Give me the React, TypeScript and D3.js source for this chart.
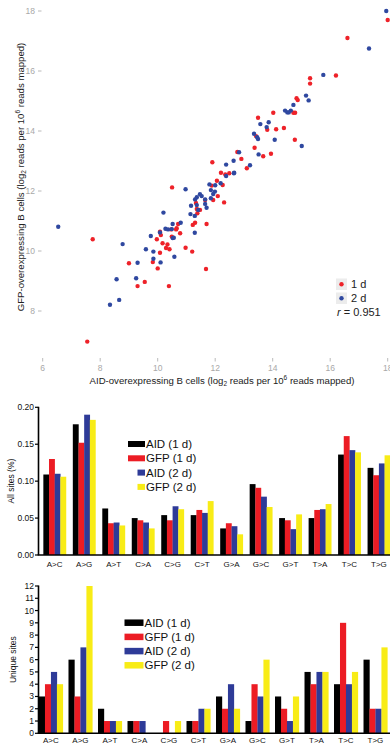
import React from 'react';
import * as d3 from 'd3';

// scatter: [AID log2 rpm, GFP log2 rpm]
const DAY1_POINTS: [number, number][] = [
  [18.0, 17.7], [16.6, 17.1], [16.2, 15.85], [15.3, 15.76], [15.3, 15.58], [14.83, 15.09],
  [14.87, 15.03], [14.72, 14.61], [14.78, 14.61], [14.02, 14.61], [13.49, 14.44], [13.81, 14.04],
  [14.12, 14.06], [14.39, 14.1], [13.42, 13.83], [14.77, 13.71], [13.37, 13.44], [13.67, 13.16],
  [13.94, 13.24], [12.77, 13.3], [12.91, 13.07], [11.9, 12.96], [13.1, 12.76], [12.2, 12.61],
  [12.49, 12.59], [12.35, 12.55], [12.06, 12.34], [12.26, 12.2], [11.88, 12.18], [12.09, 11.83],
  [11.93, 11.7], [12.31, 11.62], [10.5, 12.12], [11.65, 11.7], [11.36, 11.4], [11.47, 11.37],
  [11.38, 11.26], [11.3, 10.94], [11.7, 10.9], [11.22, 10.87], [10.71, 10.9], [10.66, 10.76],
  [11.33, 11.6], [7.74, 10.39], [10.64, 10.72], [10.47, 10.72], [10.08, 10.64], [10.11, 10.53],
  [10.78, 10.59], [10.49, 10.48], [9.97, 10.39], [10.17, 10.26], [10.34, 10.22], [10.29, 10.1],
  [10.41, 10.06], [10.08, 9.94], [10.97, 10.11], [11.2, 9.98], [9.0, 9.59], [9.83, 9.63],
  [10.0, 9.42], [9.55, 8.97], [9.3, 8.83], [10.39, 8.83], [11.68, 9.4], [7.55, 6.98],
];
const DAY2_POINTS: [number, number][] = [
  [17.95, 18.0], [17.35, 16.75], [15.76, 15.87], [15.16, 15.18], [15.25, 15.02], [14.72, 14.87],
  [14.43, 14.68], [14.51, 14.62], [14.63, 14.68], [14.56, 14.62], [13.86, 14.29], [13.57, 14.23],
  [13.79, 14.13], [13.35, 13.91], [13.46, 13.79], [13.49, 13.73], [14.07, 13.71], [15.01, 13.5],
  [13.51, 13.22], [12.83, 13.29], [12.64, 13.01], [12.38, 12.88], [13.21, 12.86], [12.66, 12.61],
  [12.38, 12.5], [12.65, 12.59], [12.19, 12.26], [11.8, 12.22], [12.0, 12.19], [11.85, 12.03],
  [11.99, 11.98], [11.93, 11.9], [11.85, 11.76], [10.97, 12.06], [11.47, 11.89], [11.53, 11.83],
  [11.36, 11.79], [11.3, 11.72], [11.65, 11.72], [11.36, 11.53], [11.65, 11.57], [11.41, 11.37],
  [11.7, 11.44], [11.14, 11.23], [11.29, 11.17], [11.16, 11.51], [10.2, 11.28], [10.52, 10.9],
  [10.8, 10.94], [11.29, 10.61], [10.27, 10.74], [10.36, 10.72], [10.49, 10.73], [10.08, 10.62],
  [10.52, 10.43], [10.56, 10.44], [9.76, 10.5], [9.85, 9.98], [9.59, 10.06], [10.58, 9.81],
  [9.3, 9.61], [9.85, 9.74], [10.1, 9.62], [8.57, 9.06], [9.25, 9.09], [8.66, 8.37],
  [8.34, 8.21], [8.78, 10.23], [6.54, 10.81],
];
const SCATTER_X_TICKS = [6, 8, 10, 12, 14, 16, 18];
const SCATTER_Y_TICKS = [8, 10, 12, 14, 16, 18];

const MUTATIONS = ['A>C', 'A>G', 'A>T', 'C>A', 'C>G', 'C>T', 'G>A', 'G>C', 'G>T', 'T>A', 'T>C', 'T>G'];
const SERIES = ['AID (1 d)', 'GFP (1 d)', 'AID (2 d)', 'GFP (2 d)'];

// all sites (%)
const ALL_AID_1D = [0.109, 0.177, 0.063, 0.050, 0.054, 0.054, 0.036, 0.096, 0.050, 0.050, 0.136, 0.118];
const ALL_GFP_1D = [0.130, 0.152, 0.043, 0.047, 0.047, 0.061, 0.043, 0.091, 0.047, 0.061, 0.161, 0.108];
const ALL_AID_2D = [0.110, 0.190, 0.044, 0.044, 0.066, 0.057, 0.039, 0.079, 0.035, 0.062, 0.142, 0.124];
const ALL_GFP_2D = [0.106, 0.183, 0.040, 0.036, 0.062, 0.073, 0.028, 0.065, 0.055, 0.069, 0.139, 0.135];
const ALL_TICKS = [0, 0.05, 0.10, 0.15, 0.20];

// unique sites
const UNIQ_AID_1D = [3, 6, 2, 1, 0, 1, 3, 1, 3, 5, 4, 6];
const UNIQ_GFP_1D = [4, 3, 1, 1, 1, 1, 2, 4, 2, 4, 9, 2];
const UNIQ_AID_2D = [5, 7, 1, 1, 0, 2, 4, 3, 1, 5, 4, 2];
const UNIQ_GFP_2D = [4, 12, 1, 0, 1, 2, 2, 6, 3, 5, 5, 7];
const UNIQ_TICKS = [0, 1, 2, 3, 4, 5, 6, 7, 8, 9, 10, 11, 12];

const BAR_COLORS = ['#000000', '#ec1c24', '#2e3b98', '#f8ec16'];
const DOT_RED = '#ee2229';
const DOT_BLUE = '#2f48a0';
const FONT = '"Liberation Sans", Arial, Helvetica, sans-serif';

const Scatter: React.FC = () => {
  const x = d3.scaleLinear().domain([6, 18]).range([42.7, 387.7]);
  const y = d3.scaleLinear().domain([8, 18]).range([311, 11]);
  const tickGray = '#a8a8a8';
  return (
    <g fontFamily={FONT}>
      {SCATTER_Y_TICKS.map(t => (
        <g key={'y' + t}>
          <text x={35} y={y(t)} dy="0.33em" fontSize={8.5} fill={tickGray} textAnchor="end">{t}</text>
          <line x1={38} x2={41.5} y1={y(t)} y2={y(t)} stroke={tickGray} strokeWidth={0.8}/>
        </g>
      ))}
      {SCATTER_X_TICKS.map(t => (
        <g key={'x' + t}>
          <line x1={x(t)} x2={x(t)} y1={358} y2={361.5} stroke={tickGray} strokeWidth={0.8}/>
          <text x={x(t)} y={371} fontSize={8.5} fill={tickGray} textAnchor="middle">{t}</text>
        </g>
      ))}
      <text x={222} y={384} fontSize={9.6} fill="#222" textAnchor="middle">
        AID-overexpressing B cells (log<tspan fontSize={6.5} dy={2}>2</tspan>
        <tspan dy={-2}> reads per 10</tspan><tspan fontSize={6.5} dy={-4}>6</tspan>
        <tspan dy={4}> reads mapped)</tspan>
      </text>
      <text transform="translate(24,177) rotate(-90)" fontSize={9.6} fill="#222" textAnchor="middle">
        GFP-overexpressing B cells (log<tspan fontSize={6.5} dy={2}>2</tspan>
        <tspan dy={-2}> reads per 10</tspan><tspan fontSize={6.5} dy={-4}>6</tspan>
        <tspan dy={4}> reads mapped)</tspan>
      </text>
      {DAY1_POINTS.map((d, i) => (
        <circle key={'r' + i} cx={x(d[0])} cy={y(d[1])} r={2.2} fill={DOT_RED}/>
      ))}
      {DAY2_POINTS.map((d, i) => (
        <circle key={'b' + i} cx={x(d[0])} cy={y(d[1])} r={2.2} fill={DOT_BLUE}/>
      ))}
      <rect x={336} y={278.5} width={11} height={11.5} fill="#ececec"/>
      <rect x={336} y={292.5} width={11} height={11.5} fill="#ececec"/>
      <circle cx={341.5} cy={284.3} r={2.2} fill={DOT_RED}/>
      <circle cx={341.5} cy={298.3} r={2.2} fill={DOT_BLUE}/>
      <text x={351} y={288.3} fontSize={11} fill="#222">1 d</text>
      <text x={351} y={302.3} fontSize={11} fill="#222">2 d</text>
      <text x={337} y={316} fontSize={11} fill="#222"><tspan fontStyle="italic">r</tspan> = 0.951</text>
    </g>
  );
};

type BarPanelProps = {
  data: number[][];
  yTop: number;
  yBottom: number;
  yMax: number;
  ticks: number[];
  format: (v: number) => string;
  xRange: [number, number];
  padInner: number;
  padOuter: number;
  title: string;
  titleX: number;
  tickFont: number;
  labelY: number;
  legendRight: number;
  legendY: number;
  legendStep: number;
  swatchW: number[];
  swatchH: number;
};

const BarPanel: React.FC<BarPanelProps> = p => {
  const y = d3.scaleLinear().domain([0, p.yMax]).range([p.yBottom, p.yTop]);
  const x = d3.scaleBand<string>().domain(MUTATIONS).range(p.xRange)
    .paddingInner(p.padInner).paddingOuter(p.padOuter);
  const xs = d3.scaleBand<string>().domain(SERIES).range([0, x.bandwidth()]);
  const axisX = 38.5;
  return (
    <g fontFamily={FONT}>
      {p.data.map((vals, si) => vals.map((v, ci) => (
        <rect key={si + '-' + ci}
              x={x(MUTATIONS[ci])! + xs(SERIES[si])!}
              y={y(v)}
              width={xs.bandwidth() + 0.2}
              height={p.yBottom - y(v)}
              fill={BAR_COLORS[si]}/>
      )))}
      <line x1={axisX} x2={axisX} y1={p.yTop - 0.5} y2={p.yBottom} stroke="#000" strokeWidth={1.6}/>
      <line x1={axisX - 0.8} x2={390} y1={p.yBottom} y2={p.yBottom} stroke="#000" strokeWidth={1.6}/>
      {p.ticks.map(t => (
        <g key={t}>
          <line x1={axisX - 3.5} x2={axisX} y1={y(t)} y2={y(t)} stroke="#000" strokeWidth={1.2}/>
          <text x={axisX - 4.5} y={y(t)} dy="0.35em" fontSize={p.tickFont} textAnchor="end" fill="#111">{p.format(t)}</text>
        </g>
      ))}
      {MUTATIONS.map(m => (
        <text key={m} x={x(m)! + x.bandwidth() / 2} y={p.labelY} fontSize={8} textAnchor="middle" fill="#111">{m}</text>
      ))}
      <text transform={`translate(${p.titleX},${(p.yTop + p.yBottom) / 2}) rotate(-90)`}
            fontSize={8.5} textAnchor="middle" fill="#111">{p.title}</text>
      {SERIES.map((s, i) => (
        <g key={s}>
          <rect x={p.legendRight - p.swatchW[i]} y={p.legendY + i * p.legendStep - p.swatchH / 2}
                width={p.swatchW[i]} height={p.swatchH} fill={BAR_COLORS[i]}/>
          <text x={p.legendRight + 1} y={p.legendY + i * p.legendStep} dy="0.36em" fontSize={11.5} fill="#111">{s}</text>
        </g>
      ))}
    </g>
  );
};

export default function App() {
  return (
    <svg width={390} height={744} style={{position: 'absolute', left: 0, top: 0, background: '#fff'}}>
      <Scatter/>
      <BarPanel
        data={[ALL_AID_1D, ALL_GFP_1D, ALL_AID_2D, ALL_GFP_2D]}
        yTop={407.3} yBottom={555} yMax={0.2} ticks={ALL_TICKS}
        format={d3.format('.2f')}
        xRange={[40.4, 393.2]} padInner={0.23} padOuter={0.1}
        title="All sites  (%)" titleX={13.5} tickFont={8.5} labelY={567}
        legendRight={145} legendY={444} legendStep={14.3}
        swatchW={[17, 17, 7.5, 7.5]} swatchH={6}/>
      <BarPanel
        data={[UNIQ_AID_1D, UNIQ_GFP_1D, UNIQ_AID_2D, UNIQ_GFP_2D]}
        yTop={586} yBottom={733.3} yMax={12} ticks={UNIQ_TICKS}
        format={d3.format('d')}
        xRange={[38.4, 388]} padInner={0.19} padOuter={0.02}
        title="Unique sites" titleX={16} tickFont={8.5} labelY={743}
        legendRight={143.5} legendY={622.7} legendStep={14.2}
        swatchW={[19, 19, 19, 19]} swatchH={6.5}/>
    </svg>
  );
}
